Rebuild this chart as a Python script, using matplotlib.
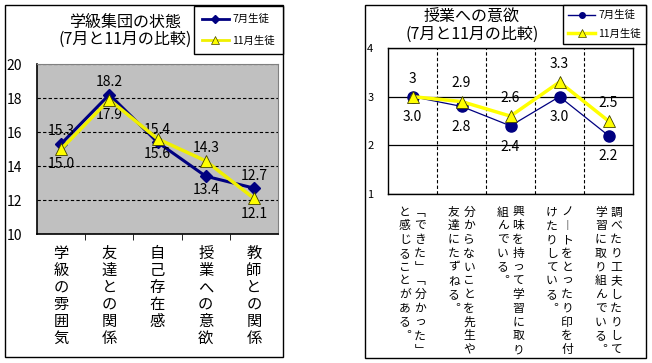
import matplotlib
matplotlib.use("Agg")
import matplotlib.pyplot as plt
from matplotlib.patches import Rectangle
from matplotlib.lines import Line2D

plt.rcParams['font.family'] = ['Noto Sans CJK JP', 'DejaVu Sans']

# left chart data
cats_left = ['学級の雰囲気', '友達との関係', '自己存在感', '授業への意欲', '教師との関係']
july_left = [15.3, 18.2, 15.4, 13.4, 12.7]
nov_left = [15.0, 17.9, 15.6, 14.3, 12.1]
yticks_left = [10, 12, 14, 16, 18, 20]

# right chart data (two columns per label, right column read first)
cats_right = [
    ('﹁できた﹂﹁分かった﹂', 'と感じることがある︒'),
    ('分からないことを先生や', '友達にたずねる︒'),
    ('興味を持って学習に取り', '組んでいる︒'),
    ('ノ︱トをとったり印を付', 'けたりしている︒'),
    ('調べたり工夫したりして', '学習に取り組んでいる︒'),
]
july_right = [3.0, 2.8, 2.4, 3.0, 2.2]
nov_right = [3.0, 2.9, 2.6, 3.3, 2.5]
yticks_right = [1, 2, 3, 4]

NAVY = '#000080'
YEL = '#FFFF00'
W, H = 652, 363

fig = plt.figure(figsize=(W / 100, H / 100), dpi=100)


def fx(px):
    return px / W


def fy(py):
    return 1 - py / H


def frame(x0, y0, x1, y1):
    fig.patches.append(Rectangle((fx(x0), fy(y1)), fx(x1 - x0), (y1 - y0) / H,
                                 transform=fig.transFigure, fill=False,
                                 edgecolor='black', linewidth=1))


frame(5, 5, 283, 357)
frame(365, 5, 646, 358)

# ---------- left chart ----------
ax = fig.add_axes([fx(37), fy(234), fx(241), 170 / H])
ax.set_facecolor('#c0c0c0')
xs = list(range(len(cats_left)))
ax.plot(xs, july_left, color=NAVY, lw=2.2, marker='D', ms=6, zorder=3)
ax.plot(xs, nov_left, color='#f0f000', lw=2.5, marker='^', ms=8,
        mfc=YEL, mec='#404000', mew=0.6, zorder=4)
ax.set_xlim(-0.5, len(cats_left) - 0.5)
ax.set_ylim(10, 20)
ax.set_yticks(yticks_left)
ax.set_yticklabels([str(v) for v in yticks_left], fontsize=10)
ax.tick_params(axis='y', length=0, pad=22)
for lab in ax.get_yticklabels():
    lab.set_ha('left')
ax.yaxis.grid(True, color='black', ls=(0, (3, 2)), lw=0.8)
ax.set_xticks(xs)
ax.set_xticklabels(['\n'.join(c) for c in cats_left], fontsize=11,
                   linespacing=1.0, va='top')
ax.tick_params(axis='x', length=0, pad=8)
ax.set_xticks([i + 0.5 for i in xs[:-1]], minor=True)
ax.tick_params(axis='x', which='minor', length=4, direction='out')
for s in ['top', 'right']:
    ax.spines[s].set_color('#808080')
ax.spines['left'].set_linewidth(1.2)
ax.spines['bottom'].set_linewidth(1.2)

july_off = [9, 9, 9, -10, 9]
nov_off = [-11, -11, -11, 9, -11]
for i in xs:
    ax.annotate(f'{july_left[i]:.1f}', (i, july_left[i]), xytext=(0, july_off[i]),
                textcoords='offset points', ha='center', va='center', fontsize=10)
    ax.annotate(f'{nov_left[i]:.1f}', (i, nov_left[i]), xytext=(0, nov_off[i]),
                textcoords='offset points', ha='center', va='center', fontsize=10)

fig.text(fx(125), fy(31), '学級集団の状態\n(7月と11月の比較)', ha='center', va='center',
         fontsize=11.5, linespacing=1.05)

h1 = [Line2D([], [], color=NAVY, lw=2, marker='D', ms=4),
      Line2D([], [], color='#f0f000', lw=2, marker='^', ms=6, mfc=YEL, mec='#404000', mew=0.5)]
fig.legend(h1, ['7月生徒', '11月生徒'], loc='upper right',
           bbox_to_anchor=(fx(283), fy(6)), fontsize=7.5, frameon=True,
           fancybox=False, edgecolor='black', framealpha=1, borderpad=0.8,
           handlelength=2.6, labelspacing=1.1, handletextpad=0.3, borderaxespad=0)

# ---------- right chart ----------
ax2 = fig.add_axes([fx(388), fy(194), fx(245), 146 / H])
xs2 = list(range(len(cats_right)))
ax2.plot(xs2, july_right, color=NAVY, lw=0.9, marker='o', ms=8, zorder=3)
ax2.plot(xs2, nov_right, color=YEL, lw=2.5, marker='^', ms=9,
         mfc=YEL, mec='#404000', mew=0.6, zorder=4)
ax2.set_xlim(-0.5, len(cats_right) - 0.5)
ax2.set_ylim(1, 4)
ax2.set_yticks(yticks_right)
ax2.set_yticklabels([str(v) for v in yticks_right], fontsize=8)
ax2.tick_params(axis='y', length=0, pad=15)
for lab in ax2.get_yticklabels():
    lab.set_ha('left')
ax2.yaxis.grid(True, color='black', lw=0.9)
ax2.set_xticks([i + 0.5 for i in xs2[:-1]], minor=True)
ax2.xaxis.grid(True, which='minor', color='black', ls=(0, (3, 2)), lw=0.8)
ax2.set_xticks([])
ax2.tick_params(axis='x', which='both', length=0)
for s in ax2.spines.values():
    s.set_linewidth(1.0)

for i in xs2:
    ax2.annotate(f'{july_right[i]:.1f}', (i, july_right[i]), xytext=(0, -15),
                 textcoords='offset points', ha='center', va='center', fontsize=10)
    ax2.annotate(f'{nov_right[i]:g}', (i, nov_right[i]), xytext=(0, 13),
                 textcoords='offset points', ha='center', va='center', fontsize=10)
    # vertical text, one glyph per step (10 pt ~ 14 px apart)
    for dx, col in zip((5.5, -5.5), cats_right[i]):
        for k, ch in enumerate(col):
            ax2.annotate(ch, (i, 1), xytext=(dx, -13 - k * 9.9),
                         textcoords='offset points', ha='center', va='center',
                         fontsize=8.5)

fig.text(fx(472), fy(26), '授業への意欲\n(7月と11月の比較)', ha='center', va='center',
         fontsize=11.5, linespacing=1.05)

h2 = [Line2D([], [], color=NAVY, lw=1, marker='o', ms=4),
      Line2D([], [], color=YEL, lw=2.5, marker='^', ms=6, mfc=YEL, mec='#404000', mew=0.5)]
fig.legend(h2, ['7月生徒', '11月生徒'], loc='upper right',
           bbox_to_anchor=(fx(646), fy(5)), fontsize=7.5, frameon=True,
           fancybox=False, edgecolor='black', framealpha=1, borderpad=0.5,
           handlelength=2.6, labelspacing=0.8, handletextpad=0.3, borderaxespad=0)

fig.savefig('out.png', dpi=100)
